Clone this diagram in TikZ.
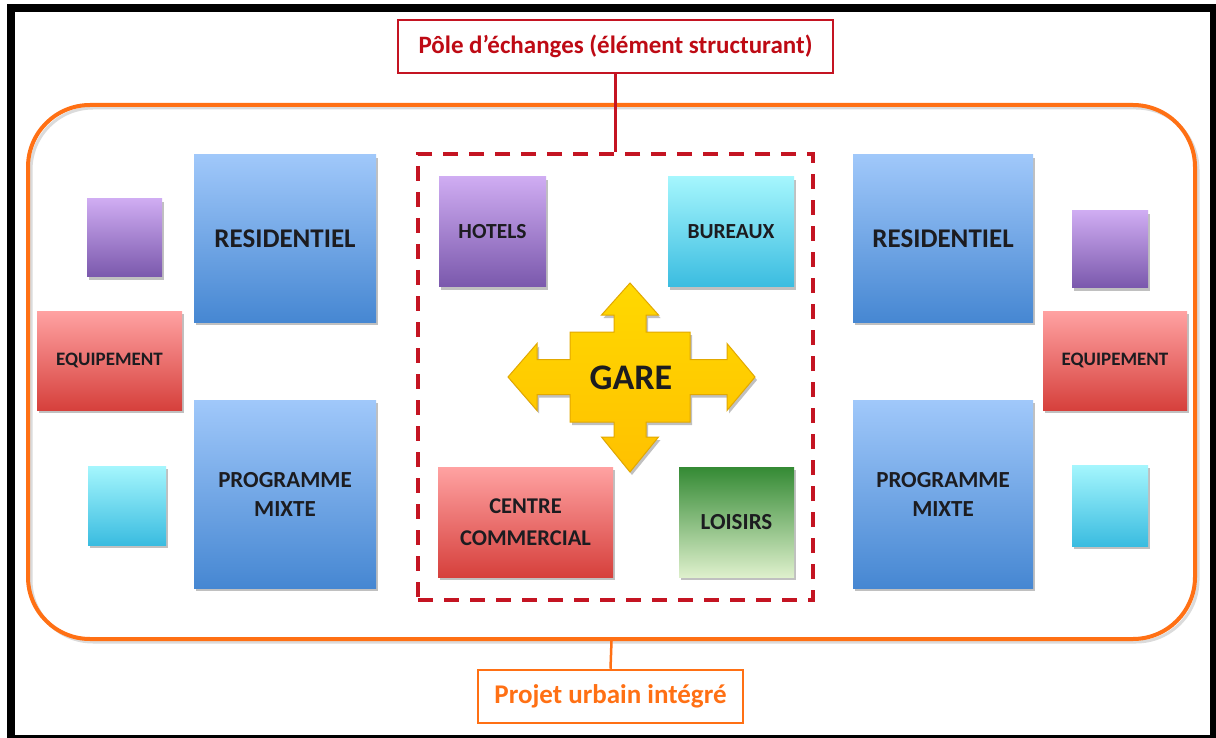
\documentclass[tikz,border=0pt]{standalone}
\usepackage{fontspec}
\setmainfont{Carlito}
\usetikzlibrary{shadows}
\definecolor{bluetop}{RGB}{160,200,250}
\definecolor{bluebot}{RGB}{70,135,210}
\definecolor{purtop}{RGB}{207,172,242}
\definecolor{purbot}{RGB}{122,88,172}
\definecolor{redtop}{RGB}{255,162,162}
\definecolor{redbot}{RGB}{214,64,60}
\definecolor{cyantop}{RGB}{165,246,253}
\definecolor{cyanbot}{RGB}{58,188,224}
\definecolor{greentop}{RGB}{52,138,52}
\definecolor{greenbot}{RGB}{222,240,204}
\definecolor{poleRed}{RGB}{196,20,34}
\definecolor{labelRed}{RGB}{190,10,20}
\definecolor{urbOrange}{RGB}{255,112,20}
\definecolor{gareYellow}{RGB}{255,200,0}
\definecolor{gareEdge}{RGB}{226,168,0}
\definecolor{txtDark}{RGB}{28,28,32}
\tikzset{
  fs/.style={font=\fontsize{#1}{#1}\selectfont\bfseries},
  shd/.style={drop shadow={shadow xshift=2pt, shadow yshift=-3pt, opacity=0.35, fill=black!70}},
  box/.style={draw=none, inner sep=2pt, align=center, text=txtDark, shd},
  bluebox/.style={box, top color=bluetop, bottom color=bluebot},
  purbox/.style={box, top color=purtop, bottom color=purbot},
  redbox/.style={box, top color=redtop, bottom color=redbot},
  cyanbox/.style={box, top color=cyantop, bottom color=cyanbot},
  greenbox/.style={box, top color=greentop, bottom color=greenbot},
  sz/.style 2 args={minimum width=#1pt, minimum height=#2pt},
}
\begin{document}
\begin{tikzpicture}[x=1pt,y=-1pt]
\useasboundingbox (0,0) rectangle (1216,738);
% frame
\fill[black] (7,4) rectangle (1216,738);
\fill[white] (15,12) rectangle (1210,735);

% orange rounded container
\draw[black!14, line width=3pt, rounded corners=62pt] (31,108) rectangle (1198,642);
\node[draw=urbOrange, line width=4pt, rounded corners=62pt, sz={1167}{534}] (urb) at (611.5,372) {};

% dashed pole
\node[draw=poleRed, line width=4pt, dash pattern=on 15pt off 11pt, sz={395}{446}] (pole) at (615.5,377) {};

% labels
\node[draw=poleRed, line width=2.5pt, fill=white, text=labelRed, fs=25, sz={435}{53}] (top) at (615.5,46.5) {Pôle d’échanges (élément structurant)};
\node[draw=urbOrange, line width=2.5pt, fill=white, text=urbOrange, fs=27, sz={265}{53}] (bot) at (610.5,696.5) {Projet urbain intégré};
\draw[poleRed, line width=2.5pt] (top.south) -- (pole.north);
\draw[urbOrange, line width=2.5pt] (urb.south) -- (bot.north);

% left
\node[purbox, sz={75}{78}] (lpur) at (124.5,238) {};
\node[bluebox, sz={182}{167}, fs=27] (lres) at (285,238.5) {RESIDENTIEL};
\node[redbox, sz={145}{99}, fs=19] (lequ) at (109.5,360.5) {EQUIPEMENT};
\node[bluebox, sz={182}{188}, fs=23] (lprog) at (285,494) {PROGRAMME\\[6pt]MIXTE};
\node[cyanbox, sz={78}{79}] (lcyan) at (127,505.5) {};

% right
\node[bluebox, sz={180}{167}, fs=27] (rres) at (943,238.5) {RESIDENTIEL};
\node[purbox, sz={76}{77}] (rpur) at (1110,249.5) {};
\node[redbox, sz={144}{99}, fs=19] (requ) at (1115,360.5) {EQUIPEMENT};
\node[bluebox, sz={180}{188}, fs=23] (rprog) at (943,494) {PROGRAMME\\[6pt]MIXTE};
\node[cyanbox, sz={76}{81}] (rcyan) at (1110,505.5) {};

% centre
\node[purbox, sz={107}{110}, fs=21.5] (hot) at (492.5,232) {HOTELS};
\node[cyanbox, sz={126}{110}, fs=21.5] (bur) at (731,232) {BUREAUX};
\node[redbox, sz={175}{110}, fs=22.5] (cc) at (525.5,522) {CENTRE\\[9pt]COMMERCIAL};
\node[greenbox, sz={115}{110}, fs=23] (lois) at (736.5,522) {LOISIRS};

% GARE cross
\begin{scope}[shift={(630,377)}]
\path[draw=gareEdge, line width=1pt, top color=gareYellow!70!yellow, bottom color=gareYellow!90!orange, shd]
  (0,-94) -- (28.5,-62) -- (16,-62) -- (16,-45) -- (60,-45) -- (60,-17.5) -- (97,-17.5) -- (97,-33.5)
  -- (125,0) -- (97,33.5) -- (97,17.5) -- (60,17.5) -- (60,45) -- (16,45) -- (16,60) -- (28.5,60)
  -- (0,95) -- (-28.5,60) -- (-16,60) -- (-16,45) -- (-60,45) -- (-60,17.5) -- (-93,17.5) -- (-93,33.5)
  -- (-122,0) -- (-93,-33.5) -- (-93,-17.5) -- (-60,-17.5) -- (-60,-45) -- (-16,-45) -- (-16,-62)
  -- (-28.5,-62) -- cycle;
\end{scope}
\node[fs=36, text=txtDark] (gare) at (631,378) {GARE};
\end{tikzpicture}
\end{document}
